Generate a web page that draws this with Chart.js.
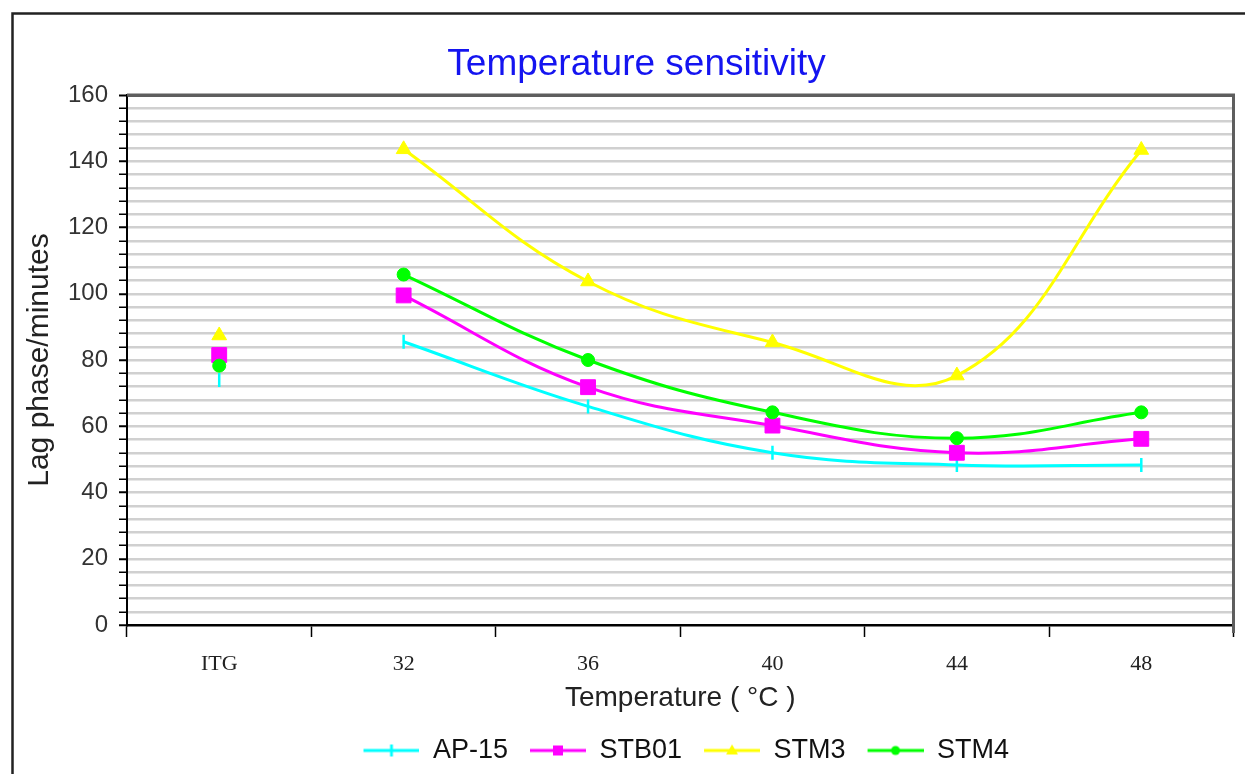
<!DOCTYPE html>
<html>
<head>
<meta charset="utf-8">
<script src="https://cdn.jsdelivr.net/npm/chart.js@4.4.1/dist/chart.umd.min.js"></script>
<style>
html,body{margin:0;padding:0;background:#fff;}
#wrap{position:relative;width:1245px;height:774px;}
canvas{display:block;}
</style>
</head>
<body>
<div id="wrap"><canvas id="c" width="1245" height="774"></canvas></div>
<script>
// ---- data ----
const categories = ['ITG', '32', '36', '40', '44', '48'];
const ap15  = [74.0, 85.5, 66.0, 52.0, 48.3, 48.3];
const stb01 = [81.5, 99.5, 71.8, 60.2, 52.0, 56.2];
const stm3  = [87.4, 143.6, 103.7, 85.3, 75.3, 143.4];
const stm4  = [78.3, 105.8, 80.0, 64.2, 56.4, 64.2];
const yTickLabels = [0, 20, 40, 60, 80, 100, 120, 140, 160];

const titleText = 'Temperature sensitivity';
const xTitle = 'Temperature ( °C )';
const yTitle = 'Lag phase/minutes';

// ---- styles ----
const SANS = "'Liberation Sans', Arial, sans-serif";
const SERIF = "'Liberation Serif', 'Times New Roman', serif";
Chart.defaults.font.family = SANS;

const series = [
  {label: 'AP-15', values: ap15,  color: '#00ffff', pointStyle: 'line',     rotation: 90, radius: 7,   bw: 2.5, order: 3, icon: 'bar'},
  {label: 'STB01', values: stb01, color: '#ff00ff', pointStyle: 'rect',     rotation: 0,  radius: 10.5,bw: 1,   order: 2, icon: 'rect'},
  {label: 'STM3',  values: stm3,  color: '#ffff00', pointStyle: 'triangle', rotation: 0,  radius: 8.5, bw: 1,   order: 1, icon: 'triangle'},
  {label: 'STM4',  values: stm4,  color: '#00ff00', pointStyle: 'circle',   rotation: 0,  radius: 6.5, bw: 1,   order: 0, icon: 'circle'}
];

function makeLegendIcon(color, kind) {
  const c = document.createElement('canvas');
  c.width = 68; c.height = 22;
  const g = c.getContext('2d');
  const x0 = 12, x1 = 68, cy = 11, cx = (x0 + x1) / 2;
  g.strokeStyle = color; g.fillStyle = color; g.lineWidth = 2.8;
  g.beginPath(); g.moveTo(x0, cy); g.lineTo(x1, cy); g.stroke();
  if (kind === 'bar') {
    g.beginPath(); g.moveTo(cx, cy - 6); g.lineTo(cx, cy + 6); g.stroke();
  } else if (kind === 'rect') {
    g.fillRect(cx - 5, cy - 5, 10, 10);
  } else if (kind === 'triangle') {
    g.beginPath(); g.moveTo(cx, cy - 6); g.lineTo(cx + 6, cy + 4); g.lineTo(cx - 6, cy + 4); g.closePath(); g.fill();
  } else if (kind === 'circle') {
    g.beginPath(); g.arc(cx, cy, 4.5, 0, Math.PI * 2); g.fill();
  }
  return c;
}

const datasets = [];
series.forEach(s => {
  datasets.push({
    label: s.label,
    data: s.values.map((v, i) => i === 0 ? null : v),
    borderColor: s.color, backgroundColor: s.color,
    pointBackgroundColor: s.color, pointBorderColor: s.color,
    borderWidth: 3, pointBorderWidth: s.bw,
    pointStyle: s.pointStyle, pointRotation: s.rotation,
    pointRadius: s.radius, pointHoverRadius: s.radius,
    tension: 0.4, spanGaps: false, order: s.order, fill: false
  });
});
series.forEach(s => {
  datasets.push({
    label: s.label + ' (ITG)',
    data: s.values.map((v, i) => i === 0 ? v : null),
    showLine: false,
    borderColor: s.color, backgroundColor: s.color,
    pointBackgroundColor: s.color, pointBorderColor: s.color,
    pointBorderWidth: s.bw, pointStyle: s.pointStyle, pointRotation: s.rotation,
    pointRadius: s.radius, pointHoverRadius: s.radius, order: s.order
  });
});

const framePlugin = {
  id: 'frame',
  beforeDraw(chart) {
    const ctx = chart.ctx;
    ctx.save();
    ctx.fillStyle = '#fff';
    ctx.fillRect(0, 0, chart.width, chart.height);
    ctx.strokeStyle = '#222';
    ctx.lineWidth = 2.5;
    ctx.beginPath();
    ctx.moveTo(12.5, chart.height);
    ctx.lineTo(12.5, 13.5);
    ctx.lineTo(chart.width, 13.5);
    ctx.stroke();
    ctx.restore();
  },
  afterLayout(chart) {
    if (chart.titleBlock) { chart.titleBlock.left += 13; chart.titleBlock.right += 13; }
  },
  beforeDatasetsDraw(chart) {
    const a = chart.chartArea, ctx = chart.ctx;
    ctx.save();
    ctx.strokeStyle = '#5e5e5e';
    ctx.lineWidth = 3;
    ctx.beginPath();
    ctx.moveTo(a.left, a.top);
    ctx.lineTo(a.right, a.top);
    ctx.lineTo(a.right, a.bottom + 8);
    ctx.stroke();
    ctx.restore();
  }
};

new Chart(document.getElementById('c'), {
  type: 'line',
  data: { labels: categories, datasets: datasets },
  plugins: [framePlugin],
  options: {
    responsive: false,
    animation: false,
    devicePixelRatio: 1,
    layout: { padding: { left: 12, right: 10, top: 0, bottom: 0 } },
    plugins: {
      tooltip: { enabled: false },
      title: {
        display: true, text: titleText, color: '#1414f0',
        font: { family: SANS, size: 37, weight: 'normal' },
        padding: { top: 43, bottom: 7.6 }
      },
      legend: {
        display: true, position: 'bottom', fullSize: false,
        labels: {
          color: '#111', font: { family: SANS, size: 27 },
          usePointStyle: true, pointStyleWidth: 68, padding: 10,
          generateLabels: () => series.map((s, i) => ({
            text: s.label, fillStyle: s.color, strokeStyle: s.color, lineWidth: 0,
            pointStyle: makeLegendIcon(s.color, s.icon), rotation: 0,
            hidden: false, datasetIndex: i, fontColor: '#111'
          }))
        }
      }
    },
    scales: {
      x: {
        type: 'category', offset: true,
        afterFit(s) { s.height = 102; },
        grid: { display: true, drawOnChartArea: false, offset: true, tickLength: 12, tickColor: '#000', tickWidth: 1.5, color: '#000' },
        border: { display: true, color: '#000', width: 2.5 },
        ticks: { padding: 14, color: '#222', font: { family: SERIF, size: 22 }, maxRotation: 0, autoSkip: false },
        title: { display: true, text: xTitle, color: '#222', font: { family: SANS, size: 28 }, padding: { top: 0, bottom: 12 } }
      },
      y: {
        min: 0, max: 160,
        afterFit(s) { s.width = 115; },
        ticks: {
          stepSize: 4, autoSkip: false, maxTicksLimit: 100, padding: 11, color: '#333',
          font: { family: SANS, size: 24 },
          callback: v => yTickLabels.includes(v) ? String(v) : ''
        },
        grid: {
          color: c => (c.tick && c.tick.value === 0) ? 'rgba(0,0,0,0)' : (c.tick && c.tick.value === 160 ? '#5e5e5e' : '#d0d0d0'),
          lineWidth: c => (c.tick && c.tick.value === 160) ? 3 : 2.5,
          tickLength: 8, tickColor: '#000',
          tickWidth: c => (c.tick && c.tick.value % 20 === 0) ? 2 : 1.5
        },
        border: { display: true, color: '#000', width: 2 },
        title: { display: true, text: yTitle, color: '#222', font: { family: SANS, size: 30 }, padding: { top: 10, bottom: 0 } }
      }
    }
  }
});
</script>
</body>
</html>
